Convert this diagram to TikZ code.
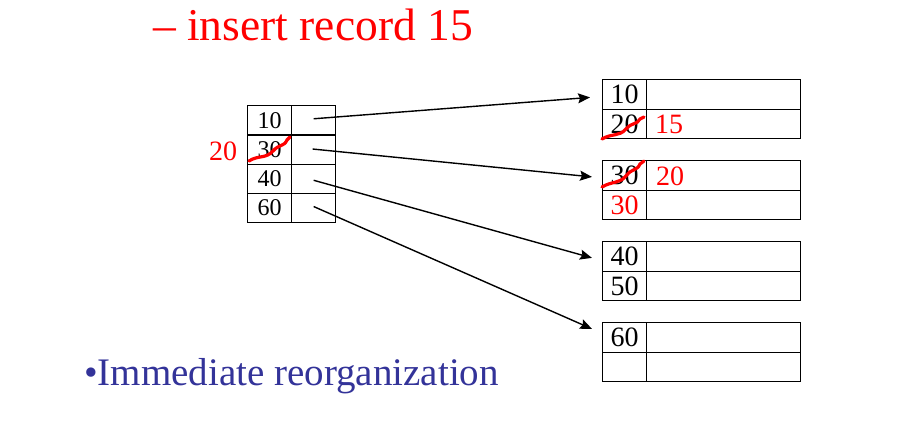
\documentclass[tikz,border=0pt]{standalone}
\usepackage{fontspec}
\setmainfont{Liberation Serif}
\usetikzlibrary{arrows.meta}
\definecolor{bulletblue}{RGB}{51,51,153}
\definecolor{markred}{RGB}{255,0,0}
\begin{document}
\begin{tikzpicture}[x=1pt,y=-1pt,
  cell/.style={draw, line width=1.3pt, inner sep=0pt, anchor=north west},
  lkey/.style={cell, minimum width=44pt, minimum height=29.25pt, font=\fontsize{24}{24}\selectfont},
  lptr/.style={cell, minimum width=44pt, minimum height=29.25pt},
  rkey/.style={cell, minimum width=44pt, minimum height=29.5pt, font=\fontsize{28}{28}\selectfont},
  rdat/.style={cell, minimum width=154pt, minimum height=29.5pt},
  redtxt/.style={text=markred, font=\fontsize{28}{28}\selectfont, inner sep=0pt},
  ptr/.style={line width=1.4pt, -{Stealth[length=12pt,width=10pt,inset=2pt]}},
  scribble/.style={draw=markred, line width=3.2pt, line cap=round}]
\useasboundingbox (0,0) rectangle (921,447);

% title
\node[anchor=base west, inner sep=0pt, text=markred, font=\fontsize{45.5}{45.5}\selectfont] (title) at (153,40) {– insert record 15};

% index block
\node[lkey] (k1) at (247,105) {10};
\node[lptr] (p1) at (291,105) {};
\node[lkey] (k2) at (247,134.25) {30};
\node[lptr] (p2) at (291,134.25) {};
\node[lkey] (k3) at (247,163.5) {40};
\node[lptr] (p3) at (291,163.5) {};
\node[lkey] (k4) at (247,192.75) {60};
\node[lptr] (p4) at (291,192.75) {};

% data blocks
\node[rkey] (b1a) at (602,79) {10};
\node[rdat] (b1ad) at (646,79) {};
\node[rkey] (b1b) at (602,108.5) {20};
\node[rdat] (b1bd) at (646,108.5) {};

\node[rkey] (b2a) at (602,160) {30};
\node[rdat] (b2ad) at (646,160) {};
\node[rkey] (b2b) at (602,189.5) {};
\node[rdat] (b2bd) at (646,189.5) {};

\node[rkey] (b3a) at (602,241) {40};
\node[rdat] (b3ad) at (646,241) {};
\node[rkey] (b3b) at (602,270.5) {50};
\node[rdat] (b3bd) at (646,270.5) {};

\node[rkey] (b4a) at (602,322) {60};
\node[rdat] (b4ad) at (646,322) {};
\node[rkey] (b4b) at (602,351.5) {};
\node[rdat] (b4bd) at (646,351.5) {};

% red annotations
\node[redtxt] (n20l) at (223,151) {20};
\node[redtxt, anchor=west] (n15) at (655,124) {15};
\node[redtxt, anchor=west] (n20r) at (656,176) {20};
\node[redtxt] (n30r) at (b2b.center) {30};

% scribbles
\draw[scribble] (249,161) .. controls (258,155) and (266,159) .. (273,151)
  .. controls (279,144) and (284,147) .. (287,140) -- (290,137);
\draw[scribble] (602,139) .. controls (612,133) and (619,137) .. (626,129)
  .. controls (632,122) and (637,125) .. (640,119) -- (644,117);
\draw[scribble] (602,187) .. controls (612,181) and (619,184) .. (626,176)
  .. controls (632,168) and (637,171) .. (640,164) -- (644,161);

% connectors
\coordinate (s1) at ([shift={(0,-1.5)}]p1.center);
\coordinate (s2) at ([shift={(-1,-0.5)}]p2.center);
\coordinate (s3) at ([shift={(0,1.5)}]p3.center);
\coordinate (s4) at ([shift={(0,-1.5)}]p4.center);
\coordinate (t1) at ([shift={(-12,3)}]b1a.west);
\coordinate (t2) at ([shift={(-10,1.5)}]b2a.west);
\coordinate (t3) at ([shift={(-10,1.5)}]b3a.west);
\coordinate (t4) at ([shift={(-10,-8.5)}]b4a.west);
\draw[ptr] (s1) -- (t1);
\draw[ptr] (s2) -- (t2);
\draw[ptr] (s3) -- (t3);
\draw[ptr] (s4) -- (t4);

% bullet text
\node[anchor=base west, inner sep=0pt, text=bulletblue, font=\fontsize{39}{39}\selectfont] (bul) at (84,385) {•Immediate reorganization};
\end{tikzpicture}
\end{document}
